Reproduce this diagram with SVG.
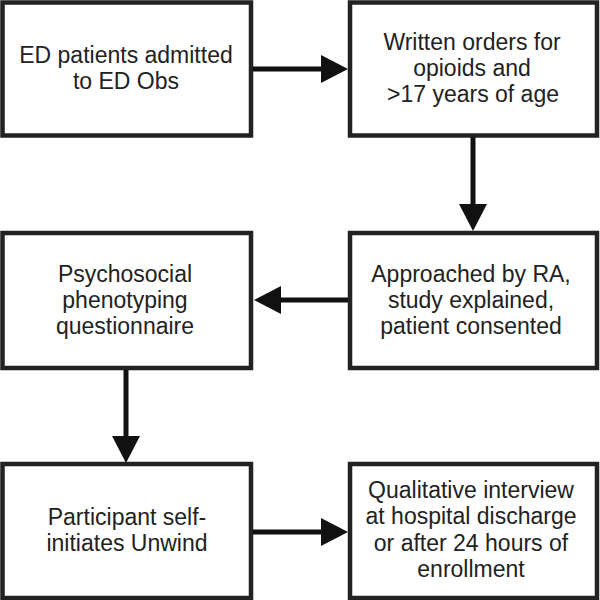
<svg xmlns="http://www.w3.org/2000/svg" width="600" height="600" viewBox="0 0 600 600">
<style>
.box{fill:#fff;stroke:#222;stroke-width:4.5}
.lbl{font-family:"Liberation Sans",Arial,sans-serif;font-size:23px;fill:#222;text-anchor:middle}
.conn{stroke:#111;stroke-width:5;fill:none}
</style>
<defs>
<marker id="ah" markerUnits="userSpaceOnUse" viewBox="0 0 27 28" refX="1" refY="14" markerWidth="27" markerHeight="28" orient="auto">
<path d="M0,0 L27,14 L0,28 Z" fill="#111"/>
</marker>
</defs>
<rect width="600" height="600" fill="#fff"/>
<g id="n1"><rect class="box" x="2.5" y="2.5" width="248.5" height="133"/>
<text class="lbl" x="126" y="63">ED patients admitted</text>
<text class="lbl" x="126" y="89">to ED Obs</text></g>
<g id="n2"><rect class="box" x="350" y="2.5" width="247" height="133"/>
<text class="lbl" x="472" y="50">Written orders for</text>
<text class="lbl" x="472" y="76">opioids and</text>
<text class="lbl" x="473" y="102">&gt;17 years of age</text></g>
<g id="n3"><rect class="box" x="350" y="233" width="247" height="135"/>
<text class="lbl" x="471" y="282">Approached by RA,</text>
<text class="lbl" x="471" y="308">study explained,</text>
<text class="lbl" x="471" y="334">patient consented</text></g>
<g id="n4"><rect class="box" x="2.5" y="233" width="248.5" height="135"/>
<text class="lbl" x="125" y="282">Psychosocial</text>
<text class="lbl" x="125" y="308">phenotyping</text>
<text class="lbl" x="125" y="334">questionnaire</text></g>
<g id="n5"><rect class="box" x="2.5" y="464" width="248.5" height="134"/>
<text class="lbl" x="127" y="525">Participant self-</text>
<text class="lbl" x="127" y="551">initiates Unwind</text></g>
<g id="n6"><rect class="box" x="350" y="464" width="247" height="134"/>
<text class="lbl" x="471" y="498">Qualitative interview</text>
<text class="lbl" x="471" y="524">at hospital discharge</text>
<text class="lbl" x="471" y="551">or after 24 hours of</text>
<text class="lbl" x="471" y="577">enrollment</text></g>
<g id="connectors">
<line class="conn" x1="253" y1="69" x2="322" y2="69" marker-end="url(#ah)"/>
<line class="conn" x1="473" y1="137" x2="473" y2="205" marker-end="url(#ah)"/>
<line class="conn" x1="348" y1="300" x2="280" y2="300" marker-end="url(#ah)"/>
<line class="conn" x1="126" y1="370" x2="126" y2="437" marker-end="url(#ah)"/>
<line class="conn" x1="253" y1="532" x2="322" y2="532" marker-end="url(#ah)"/>
</g>
</svg>
